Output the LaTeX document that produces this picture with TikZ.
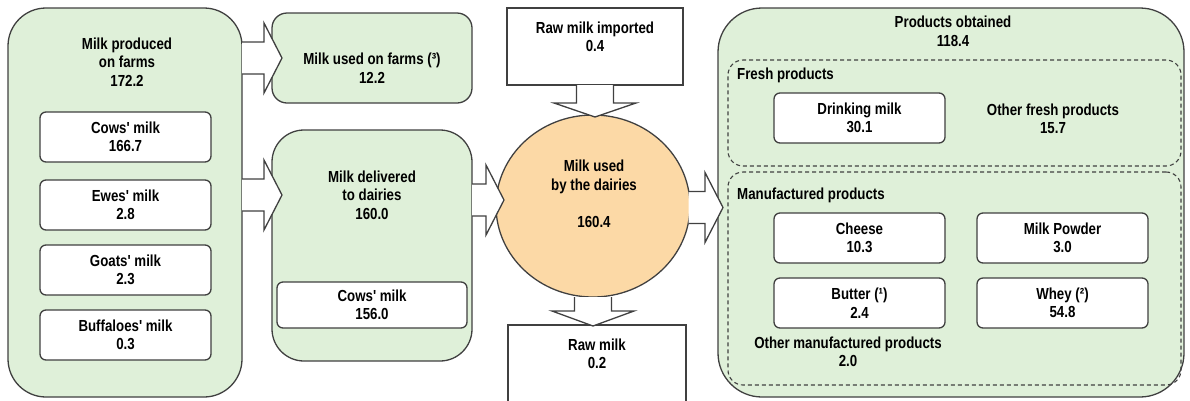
\documentclass[tikz,border=0pt]{standalone}
\usepackage{fontspec}
\setmainfont{Liberation Sans}[FakeStretch=0.83,Ligatures=TeXOff]
\usetikzlibrary{calc,shapes.geometric}
\definecolor{milkcolor0001}{RGB}{64,64,64}
\definecolor{milkcolor0002}{RGB}{223,240,217}
\definecolor{milkcolor0003}{RGB}{252,217,166}

\begin{document}
\begin{tikzpicture}[yscale=-1
            ,pstyle0/.style={draw=milkcolor0001,fill=milkcolor0002,line width=1.3pt,inner sep=0pt,outer sep=0pt}
            ,pstyle1/.style={draw=milkcolor0001,fill=white,line width=1.3pt,rounded corners=6pt,inner sep=0pt,outer sep=0pt,minimum width=171pt,minimum height=50pt,align=center,font=\bfseries\fontsize{16pt}{18.5pt}\selectfont}
            ,pstyle2/.style={draw=milkcolor0001,line width=1.1pt,dash pattern=on 4pt off 3pt,rounded corners=15pt,inner sep=0pt,outer sep=0pt,minimum width=453pt}
            ,pstyle3/.style={draw=milkcolor0001,fill=white,line width=1.3pt,line join=miter}
            ,pstyle4/.style={align=center,inner sep=0pt,font=\bfseries\fontsize{16pt}{18.5pt}\selectfont}
            ,pstyle5/.style={draw=milkcolor0001,fill=white,line width=1.3pt,inner sep=0pt,outer sep=0pt}
        ]
        \useasboundingbox (0pt,0pt) rectangle (1190pt,400pt);
        % farm side
        \node[pstyle0,rounded corners=38pt,minimum width=234pt,minimum height=389pt] (farm) at (125pt,202.5pt) {};
        \node[pstyle4] (farmtitle) at (127pt,62pt) {Milk produced\\on farms\\172.2};
        \node[pstyle1] (cows) at (125.5pt,137pt) {Cows' milk\\166.7};
        \node[pstyle1] (ewes) at (125.5pt,205pt) {Ewes' milk\\2.8};
        \node[pstyle1] (goats) at (125.5pt,270pt) {Goats' milk\\2.3};
        \node[pstyle1] (buffaloes) at (125.5pt,335pt) {Buffaloes' milk\\0.3};
        \node[pstyle0,rounded corners=15pt,minimum width=200pt,minimum height=90pt] (used) at (372pt,58pt) {};
        \node[pstyle4] (usedtext) at (372pt,68pt) {Milk used on farms (³)\\12.2};
        \node[pstyle0,rounded corners=32pt,minimum width=200pt,minimum height=231pt] (delivered) at (372pt,245.5pt) {};
        \node[pstyle4] (delivtitle) at (372pt,195pt) {Milk delivered\\to dairies\\160.0};
        \node[pstyle1,minimum width=190pt,minimum height=46pt] (cowsdeliv) at (372pt,305pt) {Cows' milk\\156.0};
        % dairies
        \node[pstyle5,minimum width=176pt,minimum height=77pt] (imported) at (595pt,46.5pt) {};
        \node[pstyle4] (importedtext) at (595pt,37pt) {Raw milk imported\\0.4};
        \node[ellipse,draw=milkcolor0001,fill=milkcolor0003,line width=1.3pt,inner sep=0pt,outer sep=0pt,minimum width=194pt,minimum height=182pt] (dairies) at (593pt,206pt) {};
        \node[pstyle4] (dairiestext) at (594pt,194pt) {Milk used\\by the dairies\\[18.5pt]160.4};
        \node[pstyle5,minimum width=178pt,minimum height=80pt] (rawout) at (597pt,365pt) {};
        \node[pstyle4] (rawouttext) at (597pt,354pt) {Raw milk\\0.2};
        % products
        \node[pstyle0,rounded corners=44pt,minimum width=466pt,minimum height=389pt] (products) at (951pt,202.5pt) {};
        \node[pstyle4] (prodtitle) at (953pt,31.5pt) {Products obtained\\118.4};
        \node[pstyle2,minimum height=106pt] (fresh) at (954.5pt,113pt) {};
        \node[pstyle4,anchor=west] (freshlabel) at (737pt,75pt) {Fresh products};
        \node[pstyle1] (drinking) at (859.5pt,118pt) {Drinking milk\\30.1};
        \node[pstyle4] (otherfresh) at (1053pt,119pt) {Other fresh products\\15.7};
        \node[pstyle2,minimum height=213pt] (manufactured) at (954.5pt,278.5pt) {};
        \node[pstyle4,anchor=west] (manulabel) at (737pt,195pt) {Manufactured products};
        \node[pstyle1] (cheese) at (859.5pt,238pt) {Cheese\\10.3};
        \node[pstyle1] (powder) at (1062.5pt,238pt) {Milk Powder\\3.0};
        \node[pstyle1] (butter) at (859.5pt,303pt) {Butter (¹)\\2.4};
        \node[pstyle1] (whey) at (1062.5pt,303pt) {Whey (²)\\54.8};
        \node[pstyle4] (othermanu) at (848pt,352pt) {Other manufactured products\\2.0};
        % block arrows
        \coordinate (a1t) at ($(used.west)+(10pt,0pt)$);
        \coordinate (a1s) at (farm.east |- a1t);
        \draw[pstyle3] ($(a1s)+(0pt,-16pt)$) -- ($(a1t)+(-18pt,-16pt)$) -- ($(a1t)+(-18pt,-35pt)$) -- (a1t) -- ($(a1t)+(-18pt,35pt)$) -- ($(a1t)+(-18pt,16pt)$) -- ($(a1s)+(0pt,16pt)$);
        \coordinate (a2t) at ($(delivered.west |- delivtitle)+(10pt,0pt)$);
        \coordinate (a2s) at (farm.east |- a2t);
        \draw[pstyle3] ($(a2s)+(0pt,-16pt)$) -- ($(a2t)+(-18pt,-16pt)$) -- ($(a2t)+(-18pt,-35pt)$) -- (a2t) -- ($(a2t)+(-18pt,35pt)$) -- ($(a2t)+(-18pt,16pt)$) -- ($(a2s)+(0pt,16pt)$);
        \coordinate (a3t) at ($(dairies.west)+(8pt,-6pt)$);
        \coordinate (a3s) at (delivered.east |- a3t);
        \draw[pstyle3] ($(a3s)+(0pt,-16pt)$) -- ($(a3t)+(-18pt,-16pt)$) -- ($(a3t)+(-18pt,-35pt)$) -- (a3t) -- ($(a3t)+(-18pt,35pt)$) -- ($(a3t)+(-18pt,16pt)$) -- ($(a3s)+(0pt,16pt)$);
        \coordinate (a4t) at ($(products.west)+(5pt,5pt)$);
        \coordinate (a4s) at ($(dairies.east |- a4t)+(-1.5pt,0pt)$);
        \draw[pstyle3] ($(a4s)+(0pt,-16pt)$) -- ($(a4t)+(-18pt,-16pt)$) -- ($(a4t)+(-18pt,-35pt)$) -- (a4t) -- ($(a4t)+(-18pt,35pt)$) -- ($(a4t)+(-18pt,16pt)$) -- ($(a4s)+(0pt,16pt)$);
        \coordinate (a5s) at (imported.south);
        \coordinate (a5t) at ($(imported.south |- dairies.north)+(0pt,2pt)$);
        \draw[pstyle3] ($(a5s)+(-18.5pt,0pt)$) -- ($(a5t)+(-18.5pt,-14pt)$) -- ($(a5t)+(-41pt,-14pt)$) -- (a5t) -- ($(a5t)+(41pt,-14pt)$) -- ($(a5t)+(18.5pt,-14pt)$) -- ($(a5s)+(18.5pt,0pt)$);
        \coordinate (a6s) at (dairies.south);
        \coordinate (a6t) at ($(dairies.south |- rawout.north)+(0pt,1pt)$);
        \draw[pstyle3] ($(a6s)+(-18.5pt,0pt)$) -- ($(a6t)+(-18.5pt,-15pt)$) -- ($(a6t)+(-41pt,-15pt)$) -- (a6t) -- ($(a6t)+(41pt,-15pt)$) -- ($(a6t)+(18.5pt,-15pt)$) -- ($(a6s)+(18.5pt,0pt)$);
    \end{tikzpicture}
\end{document}
